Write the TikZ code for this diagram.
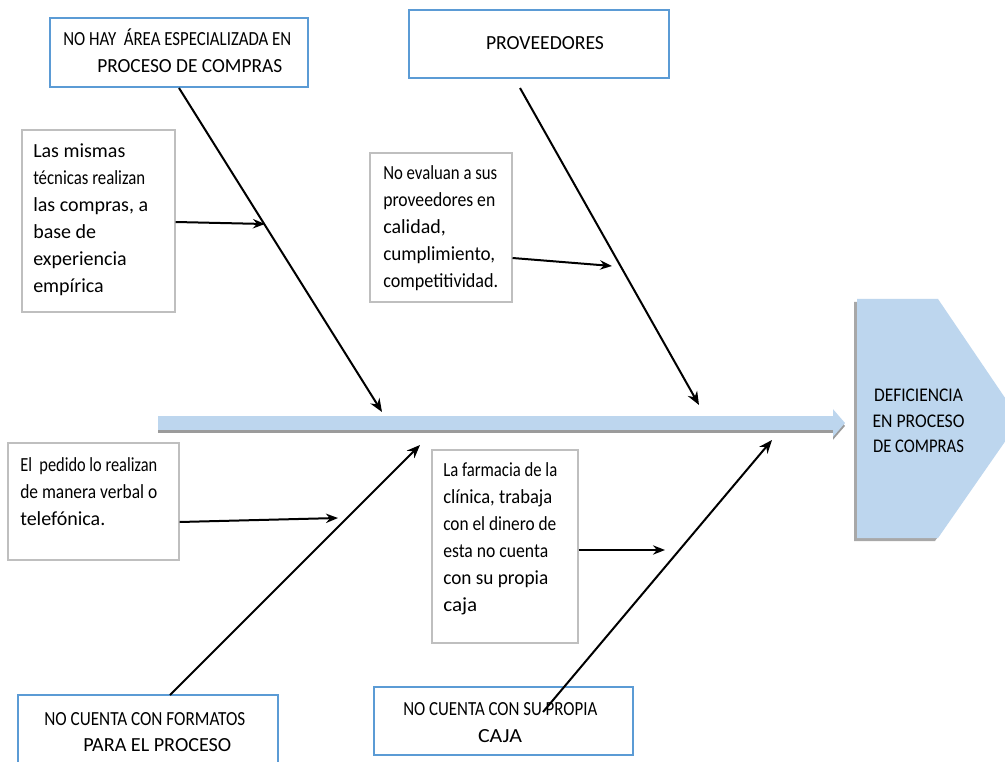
\documentclass[tikz,border=0pt]{standalone}
\usepackage{fontspec}
\usepackage{graphicx}
\setmainfont{Carlito}
\usetikzlibrary{arrows.meta,fit,calc}
\definecolor{boxblue}{RGB}{91,155,213}
\definecolor{spine}{RGB}{189,214,238}
\definecolor{boxgray}{RGB}{191,191,191}
\definecolor{shadowgray}{RGB}{130,130,130}
\newdimen\pxu \pxu=0.75pt
\newcommand\fw[2]{\resizebox{#1\pxu}{\height}{#2}}
\begin{document}
\begin{tikzpicture}[x=0.75pt,y=-0.75pt,
 bluebox/.style={draw=boxblue,line width=1.5pt,inner sep=0pt},
 graybox/.style={draw=boxgray,line width=0.8pt,inner sep=0pt},
 bone/.style={line width=1.5pt,-{Stealth[length=10pt,width=8pt]}},
 subarrow/.style={line width=1.5pt,-{Stealth[length=9pt,width=7pt]}},
 txt/.style={inner sep=0pt,align=left,anchor=base west,font=\fontsize{15}{20.25}\selectfont},
 captxt/.style={inner sep=0pt,anchor=base west,font=\fontsize{15}{20.25}\selectfont}]
\useasboundingbox (0,0) rectangle (1005,762);
\clip (0,0) rectangle (1005,762);
\fill[white] (0,0) rectangle (1005,762);

% head
\fill[shadowgray!70] (854,302) -- (935,302) -- (1017,423) -- (935,541) -- (854,541) -- cycle;
\fill[spine] (857,299) -- (938,299) -- (1020,420) -- (938,538) -- (857,538) -- cycle;
\node[inner sep=0pt,align=center,font=\fontsize{14.5}{19}\selectfont] (head) at (918.5,421) {\fw{89}{DEFICIENCIA}\\\fw{92}{EN PROCESO}\\\fw{91}{DE COMPRAS}};

% spine
\coordinate (sp0) at (158,423);
\coordinate (sp1) at (845,423);
\draw[shadowgray!80,line width=10.5pt,-{Triangle[length=9pt,width=20.25pt]},transform canvas={yshift=-2.2pt}] (sp0) -- (sp1);
\draw[spine,line width=10.5pt,-{Triangle[length=9pt,width=20.25pt]}] (sp0) -- (sp1);

% boxes
\node[bluebox,fit={(50,18) (308,87)}] (b1) {};
\node[bluebox,fit={(409,10) (669,78)}] (b2) {};
\node[graybox,fit={(22,130) (175,312)}] (b3) {};
\node[graybox,fit={(370,153) (512,302)}] (b4) {};
\node[graybox,fit={(8,443) (179,560)}] (b5) {};
\node[graybox,fit={(432,450) (578,643)}] (b6) {};
\node[bluebox,fit={(18,695) (278,775)}] (b7) {};
\node[bluebox,fit={(374,687) (633,755)}] (b8) {};

% texts
\node[captxt] (t1a) at (63,46) {\fw{228}{NO HAY \ ÁREA ESPECIALIZADA EN}};
\node[captxt] (t1b) at (97,73) {\fw{185}{PROCESO DE COMPRAS}};
\node[captxt,anchor=base] (t2) at (545,50) {\fw{118}{PROVEEDORES}};
\node[txt] (t3) at (33,293) {Las mismas\\\fw{112}{técnicas realizan}\\las compras, a\\base de\\experiencia\\empírica};
\node[txt] (t4) at (383,288) {\fw{114}{No evaluan a sus}\\\fw{112}{proveedores en}\\calidad,\\\fw{112}{cumplimiento,}\\\fw{115}{competitividad.}};
\node[txt] (t5) at (20,525) {\fw{137}{El \ pedido lo realizan}\\\fw{137}{de manera verbal o}\\telefónica.};
\node[txt] (t6) at (443,611) {\fw{114}{La farmacia de la}\\\fw{109}{clínica, trabaja}\\\fw{113}{con el dinero de}\\\fw{105}{esta no cuenta}\\\fw{105}{con su propia}\\\fw{34}{caja}};
\node[captxt] (t7a) at (44,725) {\fw{201}{NO CUENTA CON FORMATOS}};
\node[captxt] (t7b) at (83,751) {\fw{148}{PARA EL PROCESO}};
\node[captxt] (t8a) at (403,715) {\fw{194}{NO CUENTA CON SU PROPIA}};
\node[captxt,anchor=base] (t8b) at (500,742) {\fw{44}{CAJA}};

% bones
\coordinate (e1) at (382,412);
\coordinate (s2) at (520,88);
\coordinate (e2) at (699,405);
\coordinate (s3) at (170,695);
\coordinate (e3) at (420,445);
\coordinate (s4) at (543,712);
\coordinate (e4) at (772,440);
\draw[bone] (b1.south) -- (e1);
\draw[bone] (s2) -- (e2);
\draw[bone] (s3) -- (e3);
\draw[bone] (s4) -- (e4);

% sub arrows
\coordinate (a1) at (265,224);
\coordinate (a2) at (612,266);
\coordinate (a3) at (338,518);
\coordinate (a4) at (665,550);
\draw[subarrow] (b3.east |- 0,222) -- (a1);
\draw[subarrow] (b4.east |- 0,258) -- (a2);
\draw[subarrow] (b5.east |- 0,522) -- (a3);
\draw[subarrow] (b6.east |- 0,550) -- (a4);
\end{tikzpicture}
\end{document}
